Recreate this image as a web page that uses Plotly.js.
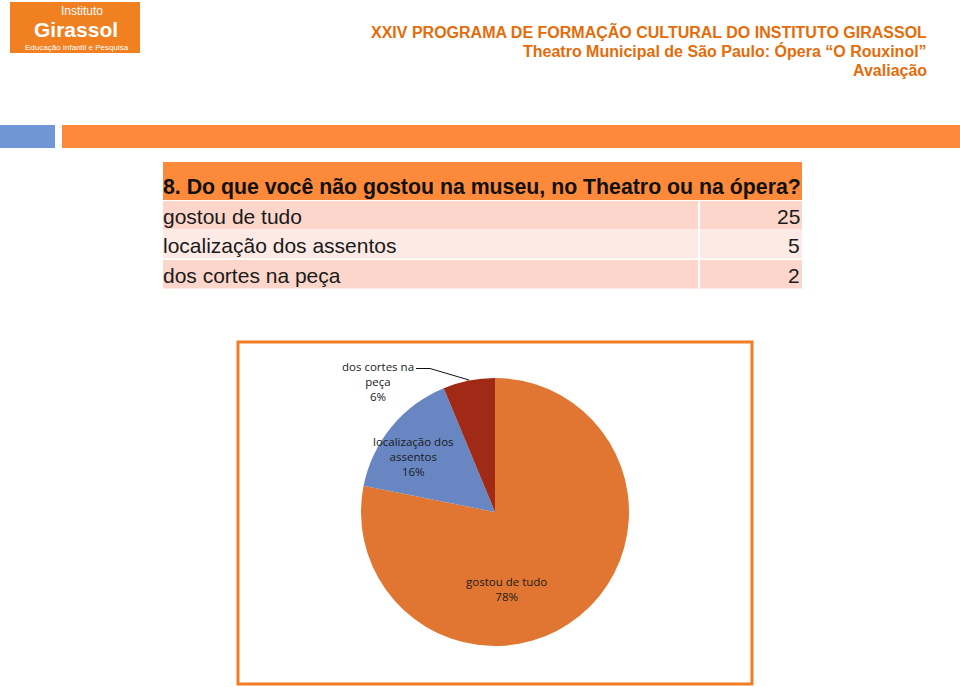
<!DOCTYPE html>
<html>
<head>
<meta charset="utf-8">
<script src="https://cdn.plot.ly/plotly-3.0.1.min.js"></script>
<style>
  html, body { margin: 0; padding: 0; background: #fff; }
  #plot { width: 960px; height: 687px; }
</style>
</head>
<body>
<div id="plot"></div>
<script>
// survey answers
const categories = ['gostou de tudo', 'localização dos assentos', 'dos cortes na peça'];
const counts = [25, 5, 2];
const pieLabels = ['gostou de tudo', 'localização dos<br>assentos', 'dos cortes na<br>peça'];
const sliceColors = ['#e07631', '#6886c1', '#a02a16'];
const question = '8. Do que você não gostou na museu, no Theatro ou na ópera?';
const headerLines = [
    'XXIV PROGRAMA DE FORMAÇÃO CULTURAL DO INSTITUTO GIRASSOL',
    'Theatro Municipal de São Paulo: Ópera “O Rouxinol”',
    'Avaliação',
];

const W = 960, H = 687;
const px = x => x / W;
const py = y => 1 - y / H;

const orange = '#e46c0a';
const shapes = [];
const annotations = [];

// logo
shapes.push({type: 'rect', xref: 'paper', yref: 'paper', x0: px(10), x1: px(140), y0: py(2), y1: py(53),
    fillcolor: '#f08020', line: {width: 0}});
annotations.push(
    {text: 'Instituto', x: px(82), y: py(11), font: {family: 'Liberation Sans', size: 12, color: '#fff'}},
    {text: '<b>Girassol</b>', x: px(76), y: py(30), font: {family: 'Liberation Sans', size: 21, color: '#fff'}},
    {text: 'Educação Infantil e Pesquisa', x: px(77), y: py(48), font: {family: 'Liberation Sans', size: 8, color: '#fff'}}
);

// header
headerLines.forEach((t, i) => {
    annotations.push({text: '<b>' + t + '</b>', x: px(928), y: py(32 + i * 19.5), xanchor: 'right',
        font: {family: 'Liberation Sans', size: 16, color: orange}});
});

// bars under header
shapes.push(
    {type: 'rect', xref: 'paper', yref: 'paper', x0: 0, x1: px(55), y0: py(125), y1: py(148),
        fillcolor: '#7196d6', line: {width: 0}},
    {type: 'rect', xref: 'paper', yref: 'paper', x0: px(62), x1: 1, y0: py(125), y1: py(148),
        fillcolor: '#fd883a', line: {width: 0}}
);

// table
const tLeft = 163, tRight = 802, tDiv = 698;
shapes.push({type: 'rect', xref: 'paper', yref: 'paper', x0: px(tLeft), x1: px(tRight), y0: py(162), y1: py(200),
    fillcolor: '#fd8a3a', line: {width: 0}});
annotations.push({text: '<b>' + question + '</b>', x: px(tLeft - 1), y: py(187), xanchor: 'left',
    font: {family: 'Liberation Sans', size: 21.3, color: '#111'}});
const rowTop = [201, 230, 260];
categories.forEach((c, i) => {
    const fill = i % 2 === 0 ? '#fcd6ca' : '#fdeae5';
    const y0 = rowTop[i], y1 = rowTop[i] + 28.5;
    shapes.push(
        {type: 'rect', xref: 'paper', yref: 'paper', x0: px(tLeft), x1: px(tDiv), y0: py(y0), y1: py(y1),
            fillcolor: fill, line: {width: 0}},
        {type: 'rect', xref: 'paper', yref: 'paper', x0: px(tDiv + 2), x1: px(tRight), y0: py(y0), y1: py(y1),
            fillcolor: fill, line: {width: 0}}
    );
    annotations.push(
        {text: c, x: px(tLeft - 1), y: py((y0 + y1) / 2 + 1), xanchor: 'left',
            font: {family: 'Liberation Sans', size: 21, color: '#1a1a1a'}},
        {text: String(counts[i]), x: px(tRight - 1), y: py((y0 + y1) / 2 + 1), xanchor: 'right',
            font: {family: 'Liberation Sans', size: 21, color: '#1a1a1a'}}
    );
});

// chart box
shapes.push({type: 'rect', xref: 'paper', yref: 'paper', x0: px(238), x1: px(752), y0: py(342), y1: py(684),
    line: {color: '#f07d22', width: 3}});

// pie labels
const total = counts.reduce((a, b) => a + b, 0);
const labelPos = [[507, 589], [413, 456], [378, 381]];
pieLabels.forEach((l, i) => {
    annotations.push({text: l + '<br>' + Math.round(counts[i] / total * 100) + '%',
        x: px(labelPos[i][0]), y: py(labelPos[i][1]),
        font: {family: 'Open Sans', size: 11.5, color: '#1a1a1a'}});
});
// leader line for small slice
shapes.push({type: 'path', xref: 'paper', yref: 'paper',
    path: `M ${px(416)} ${py(368.5)} L ${px(430)} ${py(368.5)} L ${px(469)} ${py(380)}`,
    line: {color: '#111', width: 1}});

annotations.forEach(a => {
    a.xref = 'paper'; a.yref = 'paper'; a.showarrow = false;
    a.borderpad = 0;
    if (!a.xanchor) a.xanchor = 'center';
    a.yanchor = a.yanchor || 'middle';
});

const pie = {
    type: 'pie',
    labels: categories,
    values: counts,
    sort: false,
    direction: 'clockwise',
    rotation: 0,
    marker: {colors: sliceColors, line: {width: 0}},
    textinfo: 'none',
    hoverinfo: 'label+percent',
    domain: {x: [px(361), px(629)], y: [py(646), py(378)]},
    showlegend: false,
};

Plotly.newPlot('plot', [pie], {
    width: W,
    height: H,
    margin: {l: 0, r: 0, t: 0, b: 0},
    paper_bgcolor: '#fff',
    shapes,
    annotations,
}, {displayModeBar: false, staticPlot: true});
</script>
</body>
</html>
